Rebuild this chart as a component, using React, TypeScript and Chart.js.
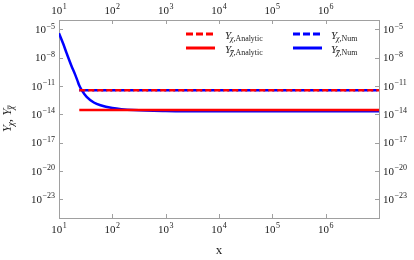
import React, { useEffect, useRef } from "react";
import { Chart, registerables } from "chart.js";

Chart.register(...registerables);

// ---- data ----
const xTickValues = [1e1, 1e2, 1e3, 1e4, 1e5, 1e6];
const yTickValues = [1e-5, 1e-8, 1e-11, 1e-14, 1e-17, 1e-20, 1e-23];

// Y_{chi-bar}, numerical (blue solid)
const numBarX = [10, 12, 14, 17, 20, 22, 24, 27, 33, 45, 60, 100, 250, 1000, 1e4, 1e5, 1e6, 1e7];
const numBarY = [4e-6, 3e-7, 2.7e-8, 1.5e-9, 1.7e-10, 4.2e-11, 1.1e-11, 3.2e-12, 7e-13, 1.8e-13, 9.1e-14, 4.7e-14, 2.8e-14, 2.2e-14, 2.05e-14, 2.05e-14, 2.05e-14, 2.05e-14];

// Y_chi, numerical (blue dashed)
const numX = [24, 1e7];
const numY = [3.5e-12, 3.5e-12];

// Y_chi, analytic (red dashed)
const anaX = [24, 1e7];
const anaY = [3.5e-12, 3.5e-12];

// Y_{chi-bar}, analytic (red solid)
const anaBarX = [24, 1e7];
const anaBarY = [2.8e-14, 2.8e-14];

const legendLabels = [",Analytic", ",Analytic", ",Num", ",Num"];
const xTitle = "x";

// ---- styles ----
const FAMILY = "'Liberation Serif', 'Times New Roman', serif";
const RED = "#ff0000";
const BLUE = "#0000ff";
const FRAME = "#a0a0a0";
const TEXT = "#222222";

const fmtPow = (v: number) => "10^" + Math.round(Math.log10(v));

const toPts = (xs: number[], ys: number[]) => xs.map((x, i) => ({ x, y: ys[i] }));

// draw "10^e" with a real superscript; align: left | right | center ; baseline y
function drawPow(ctx: CanvasRenderingContext2D, v: number, x: number, y: number, align: string) {
  const e = Math.round(Math.log10(v));
  const expStr = (e < 0 ? "\u2212" : "") + Math.abs(e);
  const big = 11;
  const small = 8;
  ctx.font = `${big}px ${FAMILY}`;
  const w1 = ctx.measureText("10").width;
  ctx.font = `${small}px ${FAMILY}`;
  const w2 = ctx.measureText(expStr).width;
  const total = w1 + w2 + 0.5;
  let x0 = x;
  if (align === "right") x0 = x - total;
  else if (align === "center") x0 = x - total / 2;
  ctx.textAlign = "left";
  ctx.textBaseline = "alphabetic";
  ctx.font = `${big}px ${FAMILY}`;
  ctx.fillText("10", x0, y);
  ctx.font = `${small}px ${FAMILY}`;
  ctx.fillText(expStr, x0 + w1 + 0.5, y - 4.5);
}

function drawY(
  ctx: CanvasRenderingContext2D,
  x: number,
  y: number,
  bar: boolean,
  suffix: string,
  size: number
) {
  ctx.font = `italic ${size}px ${FAMILY}`;
  ctx.fillText("Y", x, y);
  let cx = x + ctx.measureText("Y").width - size * 0.1;
  const ss = size * 0.72;
  const sy = y + size * 0.22;
  ctx.font = `italic ${ss}px ${FAMILY}`;
  ctx.fillText("χ", cx, sy);
  const cw = ctx.measureText("χ").width;
  if (bar) {
    ctx.beginPath();
    ctx.lineWidth = 0.8;
    ctx.moveTo(cx + 0.5, sy - ss * 0.62);
    ctx.lineTo(cx + cw + 0.5, sy - ss * 0.62);
    ctx.stroke();
  }
  cx += cw;
  if (suffix) {
    ctx.font = `${ss}px ${FAMILY}`;
    ctx.fillText(suffix, cx, sy);
    cx += ctx.measureText(suffix).width;
  }
  return cx;
}

const decorPlugin = {
  id: "decor",
  afterDraw(chart: any) {
    const ctx: CanvasRenderingContext2D = chart.ctx;
    const ca = chart.chartArea;
    ctx.save();
    // inner tick marks
    ctx.strokeStyle = FRAME;
    ctx.lineWidth = 1;
    const tl = 4;
    const sx = chart.scales.x;
    const sy = chart.scales.y;
    xTickValues.forEach((v) => {
      const p = Math.round(sx.getPixelForValue(v)) + 0.5;
      ctx.beginPath();
      ctx.moveTo(p, ca.bottom);
      ctx.lineTo(p, ca.bottom - tl);
      ctx.moveTo(p, ca.top);
      ctx.lineTo(p, ca.top + tl);
      ctx.stroke();
    });
    yTickValues.forEach((v) => {
      const p = Math.round(sy.getPixelForValue(v)) + 0.5;
      ctx.beginPath();
      ctx.moveTo(ca.left, p);
      ctx.lineTo(ca.left + tl, p);
      ctx.moveTo(ca.right, p);
      ctx.lineTo(ca.right - tl, p);
      ctx.stroke();
    });

    // tick labels
    ctx.fillStyle = TEXT;
    xTickValues.forEach((v) => {
      const p = sx.getPixelForValue(v);
      drawPow(ctx, v, p, ca.bottom + 14.5, "center");
      drawPow(ctx, v, p, ca.top - 6.5, "center");
    });
    yTickValues.forEach((v) => {
      const p = sy.getPixelForValue(v);
      drawPow(ctx, v, ca.left - 4, p + 3.7, "right");
      drawPow(ctx, v, ca.right + 4, p + 3.7, "left");
    });

    // legend
    const items = [
      { color: RED, dash: [7, 3], x1: 186, x2: 213, y: 34, tx: 225, ty: 39, bar: false, label: legendLabels[0] },
      { color: RED, dash: [], x1: 186, x2: 215, y: 48, tx: 225, ty: 53, bar: true, label: legendLabels[1] },
      { color: BLUE, dash: [7, 3], x1: 293, x2: 320, y: 34, tx: 331, ty: 39, bar: false, label: legendLabels[2] },
      { color: BLUE, dash: [], x1: 293, x2: 322, y: 48, tx: 331, ty: 53, bar: true, label: legendLabels[3] },
    ];
    items.forEach((it) => {
      ctx.beginPath();
      ctx.strokeStyle = it.color;
      ctx.lineWidth = 3;
      ctx.setLineDash(it.dash);
      ctx.moveTo(it.x1, it.y);
      ctx.lineTo(it.x2, it.y);
      ctx.stroke();
      ctx.setLineDash([]);
      ctx.fillStyle = TEXT;
      ctx.strokeStyle = TEXT;
      ctx.textBaseline = "alphabetic";
      ctx.textAlign = "left";
      drawY(ctx, it.tx, it.ty, it.bar, it.label, 11);
    });

    // y axis title (rotated)
    ctx.translate(11, (ca.top + ca.bottom) / 2);
    ctx.rotate(-Math.PI / 2);
    ctx.fillStyle = TEXT;
    ctx.strokeStyle = TEXT;
    ctx.textBaseline = "alphabetic";
    ctx.textAlign = "left";
    const size = 13;
    ctx.font = `italic ${size}px ${FAMILY}`;
    const wY = ctx.measureText("Y").width - size * 0.1;
    ctx.font = `italic ${size * 0.72}px ${FAMILY}`;
    const wC = ctx.measureText("χ").width;
    ctx.font = `${size}px ${FAMILY}`;
    const wComma = ctx.measureText(", ").width;
    const total = 2 * (wY + wC) + wComma;
    let cx = -total / 2;
    cx = drawY(ctx, cx, 0, false, "", size);
    ctx.font = `${size}px ${FAMILY}`;
    ctx.fillText(", ", cx, 0);
    cx += wComma;
    drawY(ctx, cx, 0, true, "", size);
    ctx.restore();
  },
};

export default function App() {
  const ref = useRef<HTMLCanvasElement | null>(null);

  useEffect(() => {
    if (!ref.current) return;
    const baseScale = (position: string, isX: boolean, size: number) => ({
      type: "logarithmic" as const,
      position,
      min: isX ? 10 : 1e-25,
      max: isX ? 1e7 : 1e-4,
      grid: { display: false, drawTicks: false },
      border: { display: true, color: FRAME, width: 1 },
      ticks: {
        display: false,
        autoSkip: false,
        callback: (v: any) => fmtPow(Number(v)),
      },
      afterBuildTicks: (s: any) => {
        s.ticks = (isX ? xTickValues : yTickValues).map((v) => ({ value: v }));
      },
      afterFit: (s: any) => {
        if (isX) s.height = size;
        else s.width = size;
      },
    });

    const chart = new Chart(ref.current, {
      type: "scatter",
      data: {
        datasets: [
          {
            label: "Y_chi,Analytic",
            data: toPts(anaX, anaY),
            showLine: true,
            borderColor: RED,
            borderWidth: 2.5,
            borderDash: [6, 3],
            pointRadius: 0,
            order: 1,
          },
          {
            label: "Y_chibar,Analytic",
            data: toPts(anaBarX, anaBarY),
            showLine: true,
            borderColor: RED,
            borderWidth: 2.5,
            pointRadius: 0,
            order: 2,
          },
          {
            label: "Y_chi,Num",
            data: toPts(numX, numY),
            showLine: true,
            borderColor: BLUE,
            borderWidth: 2.5,
            borderDash: [6, 3],
            borderDashOffset: 5,
            pointRadius: 0,
            order: 3,
          },
          {
            label: "Y_chibar,Num",
            data: toPts(numBarX, numBarY),
            showLine: true,
            borderColor: BLUE,
            borderWidth: 2.5,
            pointRadius: 0,
            cubicInterpolationMode: "monotone",
            order: 4,
          },
        ],
      },
      options: {
        animation: false,
        responsive: false,
        maintainAspectRatio: false,
        layout: { padding: 0 },
        plugins: { legend: { display: false }, tooltip: { enabled: false } },
        scales: {
          x: {
            ...baseScale("bottom", true, 42),
            title: {
              display: true,
              text: xTitle,
              font: { family: FAMILY, size: 13 },
              color: TEXT,
              padding: { top: 0, bottom: 2 },
            },
          },
          x2: baseScale("top", true, 20),
          y: baseScale("left", false, 59),
          y2: baseScale("right", false, 35),
        } as any,
      },
      plugins: [decorPlugin],
    } as any);
    return () => chart.destroy();
  }, []);

  return (
    <div style={{ position: "fixed", left: 0, top: 0, width: 414, height: 260, background: "#fff" }}>
      <canvas ref={ref} width={414} height={260} style={{ width: 414, height: 260, display: "block" }} />
    </div>
  );
}
